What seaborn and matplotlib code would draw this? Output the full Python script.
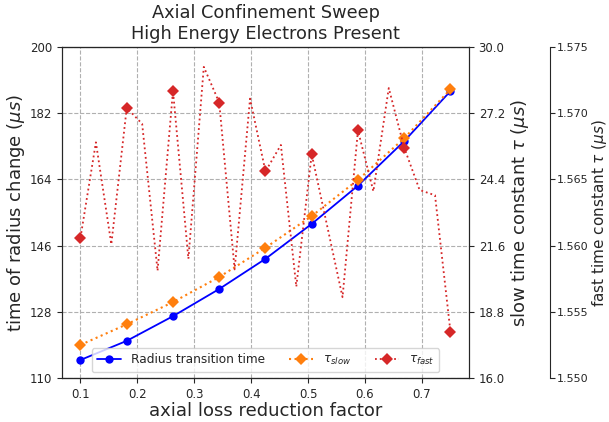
import numpy as np
import pandas as pd
import matplotlib
matplotlib.use("Agg")
import matplotlib.pyplot as plt
import seaborn as sns

# ---- data ----
x_main = [0.1, 0.18125, 0.2625, 0.34375, 0.425, 0.50625, 0.5875, 0.66875, 0.75]
radius_time = [114.9, 120.1, 126.8, 134.2, 142.4, 151.9, 162.3, 174.4, 188.0]
tau_slow = [17.40, 18.27, 19.21, 20.27, 21.51, 22.85, 24.38, 26.14, 28.21]
x_fast = [0.1, 0.12708, 0.15417, 0.18125, 0.20833, 0.23542, 0.2625, 0.28958,
          0.31667, 0.34375, 0.37083, 0.39792, 0.425, 0.45208, 0.47917, 0.50625,
          0.53333, 0.56042, 0.5875, 0.61458, 0.64167, 0.66875, 0.69583, 0.72292, 0.75]
tau_fast = [1.5606, 1.5678, 1.5601, 1.5704, 1.5692, 1.5581, 1.5717, 1.5590,
            1.5735, 1.5708, 1.5582, 1.5711, 1.5656, 1.5676, 1.5569, 1.5669,
            1.5615, 1.5561, 1.5687, 1.5641, 1.5719, 1.5674, 1.5642, 1.5638, 1.5535]

left_ticks = [110, 128, 146, 164, 182, 200]
slow_ticks = [16.0, 18.8, 21.6, 24.4, 27.2, 30.0]
fast_ticks = [1.550, 1.555, 1.560, 1.565, 1.570, 1.575]

sns.set_style("ticks")
plt.rcParams['font.family'] = ['DejaVu Sans']

fig = plt.figure(figsize=(6.09, 4.22), dpi=100)
ax = fig.add_subplot(111)
fig.subplots_adjust(left=0.1018, right=0.770, top=0.8886, bottom=0.1043)
ax2 = ax.twinx()
ax3 = ax.twinx()
ax3.spines['right'].set_position(('axes', 1.2))

df_main = pd.DataFrame({"x": x_main, "r": radius_time, "s": tau_slow})
df_fast = pd.DataFrame({"x": x_fast, "f": tau_fast})

sns.lineplot(data=df_main, x="x", y="r", ax=ax, color="blue", marker="o",
             markersize=6, markeredgewidth=0, linewidth=1.3,
             label="Radius transition time", legend=False)
sns.lineplot(data=df_main, x="x", y="s", ax=ax2, color="tab:orange", marker="D",
             markersize=6, markeredgewidth=0, linestyle=":", linewidth=1.5,
             label=r"$\tau_{slow}$", legend=False)
sns.lineplot(data=df_fast, x="x", y="f", ax=ax3, color="tab:red", marker="D",
             markersize=6, markeredgewidth=0, linestyle=":", linewidth=1.3,
             markevery=3, label=r"$\tau_{fast}$", legend=False)

ax.set_ylim(110, 200)
ax.set_yticks(left_ticks)
ax.set_yticklabels([f"{t:.0f}" for t in left_ticks])
ax2.set_ylim(16, 30)
ax2.set_yticks(slow_ticks)
ax2.set_yticklabels([f"{t:.1f}" for t in slow_ticks])
ax3.set_ylim(1.550, 1.575)
ax3.set_yticks(fast_ticks)
ax3.set_yticklabels([f"{t:.3f}" for t in fast_ticks])

ax.grid(True, linestyle="--", color="#b0b0b0", linewidth=0.8)
ax.set_xlabel("axial loss reduction factor", fontsize=13, labelpad=1)
ax.set_ylabel(r"time of radius change ($\mu s$)", fontsize=13, labelpad=2)
ax2.set_ylabel(r"slow time constant $\tau$ ($\mu s$)", fontsize=13, labelpad=3)
ax3.set_ylabel(r"fast time constant $\tau$ ($\mu s$)", fontsize=11)
ax.set_title("Axial Confinement Sweep\nHigh Energy Electrons Present", fontsize=12.8)

for a in (ax, ax2, ax3):
    a.tick_params(labelsize=8.5)
    for sp in a.spines.values():
        sp.set_visible(True)
ax3.tick_params(pad=1, labelsize=8)
ax3.spines['left'].set_visible(False)
ax3.yaxis.set_label_coords(1.297, 0.5)

h1, l1 = ax.get_legend_handles_labels()
h2, l2 = ax2.get_legend_handles_labels()
h3, l3 = ax3.get_legend_handles_labels()
ax3.legend(h1 + h2 + h3, l1 + l2 + l3, loc="lower center", ncol=3,
           fontsize=8.7, bbox_to_anchor=(0.5, 0.0))

fig.savefig("out.png", dpi=100)
